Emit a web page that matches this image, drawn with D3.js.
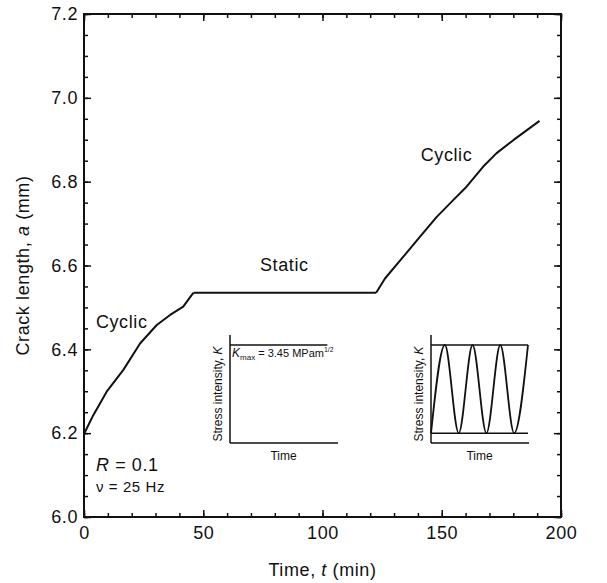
<!DOCTYPE html>
<html>
<head>
<meta charset="utf-8">
<script src="https://cdn.jsdelivr.net/npm/d3@7"></script>
<style>
  body { margin: 0; background: #fff; }
  text { font-family: "Liberation Sans", Arial, sans-serif; fill: #111; }
</style>
</head>
<body>
<div id="vis"></div>
<script>
// crack length record
var cyclic1Time = [0, 3.9, 9.5, 16.5, 23.5, 30.5, 36.1, 41.6, 45.2, 46.0];
var cyclic1Len = [6.198, 6.243, 6.299, 6.351, 6.414, 6.458, 6.482, 6.502, 6.530, 6.535];
var staticTime = [46.0, 122.5];
var staticLen = [6.535, 6.535];
var cyclic2Time = [122.5, 126.2, 133.9, 140.9, 147.9, 154.8, 160.4, 167.4, 173, 180, 191];
var cyclic2Len = [6.535, 6.569, 6.621, 6.669, 6.716, 6.756, 6.788, 6.836, 6.868, 6.899, 6.945];

// axis ticks
var xMajor = [0, 50, 100, 150, 200];
var xMinor = d3.range(0, 201, 10);
var yMajor = [6.0, 6.2, 6.4, 6.6, 6.8, 7.0, 7.2];
var yMinor = d3.range(6.0, 7.2001, 0.05);

// loading schematics (insets)
var kMax = 3.45;
var loadR = 0.1;
var freq = 25;
var staticLoadTime = [0, 0.91];
var staticLoadK = [kMax, kMax];
var cycleTime = [0, 0.5, 1, 1.5, 2, 2.5, 3, 3.5];
var cycleK = [0.345, 3.45, 0.345, 3.45, 0.345, 3.45, 0.345, 3.45];

var width = 607;
var height = 583;
var margin = { top: 14, left: 84, bottom: 66, right: 46 };

var svg = d3.select('#vis').append('svg')
  .attr('width', width)
  .attr('height', height);

var x = d3.scaleLinear().domain([0, 200]).range([margin.left, width - margin.right]);
var y = d3.scaleLinear().domain([6.0, 7.2]).range([height - margin.bottom, margin.top]);

var fontSize = '18px';
var spacing = '0.6px';

// draw ticks on all four sides, pointing inwards
function tickAxis(axisFn, scale, values, size, labels) {
  var a = axisFn(scale).tickValues(values).tickSizeInner(-size).tickSizeOuter(0);
  if (labels) {
    a.tickPadding(9).tickFormat(labels);
  } else {
    a.tickFormat('');
  }
  return a;
}

var bottomY = y.range()[0];
var topY = y.range()[1];
var leftX = x.range()[0];
var rightX = x.range()[1];

function addAxis(a, tx, ty) {
  var gA = svg.append('g')
    .attr('transform', 'translate(' + tx + ',' + ty + ')')
    .call(a);
  gA.select('.domain').remove();
  gA.selectAll('line').attr('stroke', '#111').attr('stroke-width', 1.5);
  gA.selectAll('text')
    .style('font-size', fontSize)
    .style('letter-spacing', spacing)
    .attr('fill', '#111');
  return gA;
}

addAxis(tickAxis(d3.axisBottom, x, xMinor, 4), 0, bottomY);
addAxis(tickAxis(d3.axisBottom, x, xMajor, 7, d3.format('d')), 0, bottomY);
addAxis(tickAxis(d3.axisTop, x, xMinor, 4), 0, topY);
addAxis(tickAxis(d3.axisTop, x, xMajor, 7), 0, topY);
addAxis(tickAxis(d3.axisLeft, y, yMinor, 4), leftX, 0);
addAxis(tickAxis(d3.axisLeft, y, yMajor, 7, d3.format('.1f')), leftX, 0)
  .selectAll('text').attr('x', -6);
addAxis(tickAxis(d3.axisRight, y, yMinor, 4), rightX, 0);
addAxis(tickAxis(d3.axisRight, y, yMajor, 7), rightX, 0);

// frame
svg.append('rect')
  .attr('x', leftX)
  .attr('y', topY)
  .attr('width', rightX - leftX)
  .attr('height', bottomY - topY)
  .attr('fill', 'none')
  .attr('stroke', '#111')
  .attr('stroke-width', 2);

// axis titles
var xt = svg.append('text')
  .attr('x', (leftX + rightX) / 2)
  .attr('y', 576)
  .attr('text-anchor', 'middle')
  .style('font-size', fontSize)
  .style('letter-spacing', spacing);
xt.append('tspan').text('Time, ');
xt.append('tspan').style('font-style', 'italic').text('t');
xt.append('tspan').text(' (min)');

var yt = svg.append('text')
  .attr('transform', 'translate(29,' + ((topY + bottomY) / 2) + ') rotate(-90)')
  .attr('text-anchor', 'middle')
  .style('font-size', fontSize)
  .style('letter-spacing', spacing);
yt.append('tspan').text('Crack length, ');
yt.append('tspan').style('font-style', 'italic').text('a');
yt.append('tspan').text(' (mm)');

// crack growth curve
var line = d3.line()
  .x(function (d) { return x(d[0]); })
  .y(function (d) { return y(d[1]); });

var segments = [
  d3.zip(cyclic1Time, cyclic1Len),
  d3.zip(staticTime, staticLen),
  d3.zip(cyclic2Time, cyclic2Len)
];

segments.forEach(function (seg) {
  svg.append('path')
    .datum(seg)
    .attr('d', line)
    .attr('fill', 'none')
    .attr('stroke', '#111')
    .attr('stroke-width', 2)
    .attr('stroke-linejoin', 'round');
});

// regime labels
function label(txt, lx, ly, anchor) {
  svg.append('text')
    .attr('x', lx)
    .attr('y', ly)
    .attr('text-anchor', anchor)
    .style('font-size', fontSize)
    .style('letter-spacing', spacing)
    .text(txt);
}
label('Cyclic', x(5), y(6.45), 'start');
label('Static', x(84), y(6.588), 'middle');
label('Cyclic', x(152), y(6.85), 'middle');

// test conditions
var rt = svg.append('text').attr('x', x(5)).attr('y', y(6.11))
  .style('font-size', fontSize).style('letter-spacing', spacing);
rt.append('tspan').style('font-style', 'italic').text('R');
rt.append('tspan').text(' = ' + loadR);
svg.append('text').attr('x', x(5)).attr('y', y(6.06))
  .style('font-size', '15px').style('letter-spacing', spacing)
  .text('\u03bd = ' + freq + ' Hz');

// ----- insets -----
var smallFont = '12px';

function inset(x0, x1, tDomain) {
  var tS = d3.scaleLinear().domain(tDomain).range([x0, x1]);
  var kS = d3.scaleLinear().domain([0, kMax]).range([443, 345]);
  var gI = svg.append('g');
  // axes
  gI.append('line')
    .attr('x1', x0).attr('x2', x0).attr('y1', kS(0)).attr('y2', 335)
    .attr('stroke', '#111').attr('stroke-width', 1.5);
  gI.append('line')
    .attr('x1', x0).attr('x2', x1 + 1).attr('y1', kS(0)).attr('y2', kS(0))
    .attr('stroke', '#111').attr('stroke-width', 1.5);
  var yl = gI.append('text')
    .attr('transform', 'translate(' + (x0 - 8) + ',' + kS(kMax / 2) + ') rotate(-90)')
    .attr('text-anchor', 'middle')
    .style('font-size', smallFont);
  yl.append('tspan').text('Stress intensity, ');
  yl.append('tspan').style('font-style', 'italic').text('K');
  gI.append('text')
    .attr('x', (x0 + x1) / 2)
    .attr('y', 460)
    .attr('text-anchor', 'middle')
    .style('font-size', smallFont)
    .text('Time');
  return { g: gI, t: tS, k: kS };
}

// static loading
var s1 = inset(230, 337, [0, 1]);
s1.g.append('path')
  .datum(d3.zip(staticLoadTime, staticLoadK))
  .attr('d', d3.line().x(function (d) { return s1.t(d[0]); }).y(function (d) { return s1.k(d[1]); }))
  .attr('fill', 'none')
  .attr('stroke', '#111')
  .attr('stroke-width', 1.5);
var km = s1.g.append('text')
  .attr('x', 232)
  .attr('y', 357)
  .style('font-size', '11px');
km.append('tspan').style('font-style', 'italic').style('font-size', '12px').text('K');
km.append('tspan').attr('dy', 3).style('font-size', '8px').text('max');
km.append('tspan').attr('dy', -3).text(' = ' + kMax + ' MPam');
km.append('tspan').attr('dy', -5).style('font-size', '7px').text('1/2');

// cyclic loading
var s2 = inset(431, 528, [0, 3.5]);
[d3.max(cycleK), d3.min(cycleK)].forEach(function (k) {
  s2.g.append('line')
    .attr('x1', s2.t(0)).attr('x2', s2.t(3.5))
    .attr('y1', s2.k(k)).attr('y2', s2.k(k))
    .attr('stroke', '#111').attr('stroke-width', 1.5);
});
s2.g.append('path')
  .datum(d3.zip(cycleTime, cycleK))
  .attr('d', d3.line()
    .x(function (d) { return s2.t(d[0]); })
    .y(function (d) { return s2.k(d[1]); })
    .curve(d3.curveMonotoneX))
  .attr('fill', 'none')
  .attr('stroke', '#111')
  .attr('stroke-width', 1.8);
</script>
</body>
</html>
